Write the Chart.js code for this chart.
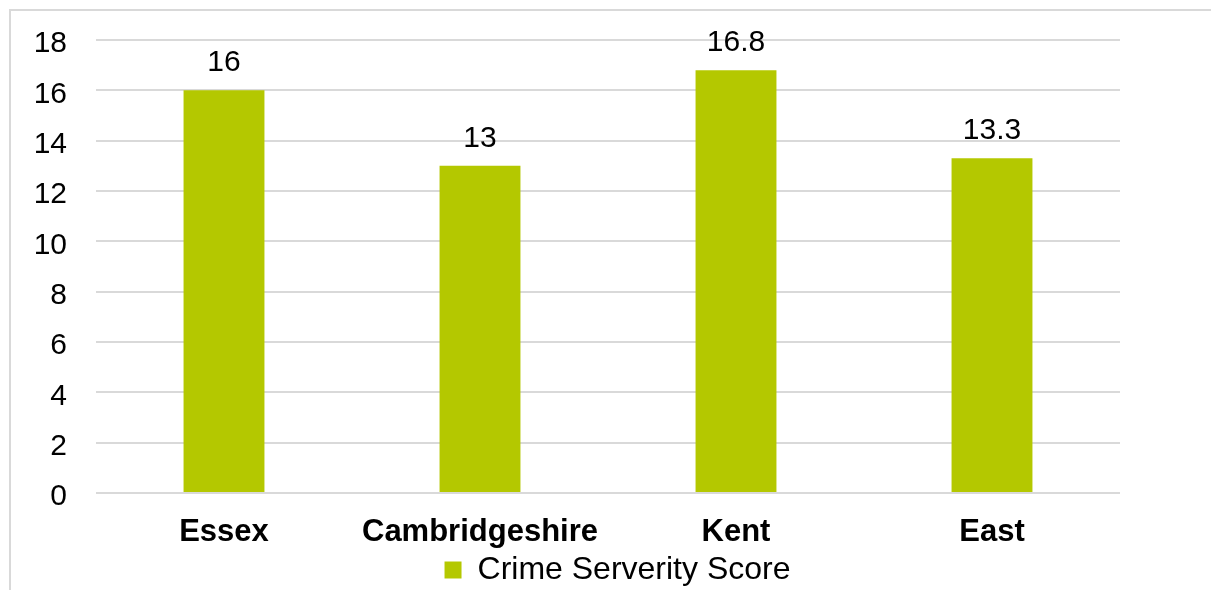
<!DOCTYPE html>
<html>
<head>
<meta charset="utf-8">
<script src="https://cdn.jsdelivr.net/npm/chart.js@4"></script>
<style>
  body { margin: 0; background: #fff; }
  #wrap {
    position: absolute; left: 9px; top: 9px;
    width: 1200px; height: 579px;
    border-left: 2px solid #d9d9d9; border-top: 2px solid #d9d9d9;
  }
</style>
</head>
<body>
<div id="wrap"><canvas id="crimeChart" width="1200" height="579"></canvas></div>
<script>
const regions = ['Essex', 'Cambridgeshire', 'Kent', 'East'];
const scores = [16, 13, 16.8, 13.3];
const seriesName = 'Crime Serverity Score';

const barColor = 'rgb(180, 200, 0)';
const gridColor = '#d9d9d9';
Chart.defaults.font.family = '"Liberation Sans", Arial, sans-serif';
Chart.defaults.color = '#000';

// numbers above the bars
const valueLabels = {
    id: 'valueLabels',
    afterDatasetsDraw(chart) {
        const ctx = chart.ctx;
        const meta = chart.getDatasetMeta(0);
        ctx.save();
        ctx.font = '30px "Liberation Sans", Arial, sans-serif';
        ctx.fillStyle = '#000';
        ctx.textAlign = 'center';
        ctx.textBaseline = 'alphabetic';
        meta.data.forEach((bar, i) => {
            ctx.fillText(String(scores[i]), bar.x, bar.y - 19);
        });
        ctx.restore();
    }
};

// fixed legend height, and legend moved a bit right of centre
const legendBox = {
    id: 'legendBox',
    afterInit(chart) {
        const lg = chart.legend;
        const fit = lg.fit;
        lg.fit = function () {
            fit.call(this);
            this.height = 38;
        };
    },
    afterLayout(chart) {
        chart.legend.left += 52;
        chart.legend.right += 52;
    }
};

new Chart(document.getElementById('crimeChart'), {
    type: 'bar',
    data: {
        labels: regions,
        datasets: [{
            label: seriesName,
            data: scores,
            backgroundColor: barColor,
            borderWidth: 0,
            barPercentage: 1,
            categoryPercentage: 0.316
        }]
    },
    options: {
        responsive: false,
        animation: false,
        layout: { padding: { top: 29, right: 91, bottom: 0, left: 0 } },
        plugins: {
            legend: {
                position: 'bottom',
                labels: {
                    boxWidth: 17,
                    boxHeight: 17,
                    padding: 2,
                    font: { size: 32 },
                    color: '#000'
                }
            },
            tooltip: { enabled: false }
        },
        scales: {
            x: {
                afterFit(scale) { scale.height = 59; },
                grid: { display: false, drawTicks: false },
                border: { display: false },
                ticks: {
                    padding: 21,
                    font: { size: 31, weight: 'bold' },
                    color: '#000'
                }
            },
            y: {
                min: 0,
                max: 18,
                afterFit(scale) {
                    scale.width = 85;
                    scale.paddingTop = 0;
                    scale.paddingBottom = 0;
                },
                grid: { color: gridColor, lineWidth: 2, drawTicks: false },
                border: { display: false },
                ticks: {
                    stepSize: 2,
                    padding: 29,
                    labelOffset: 4,
                    font: { size: 30 },
                    color: '#000'
                }
            }
        }
    },
    plugins: [valueLabels, legendBox]
});
</script>
</body>
</html>
